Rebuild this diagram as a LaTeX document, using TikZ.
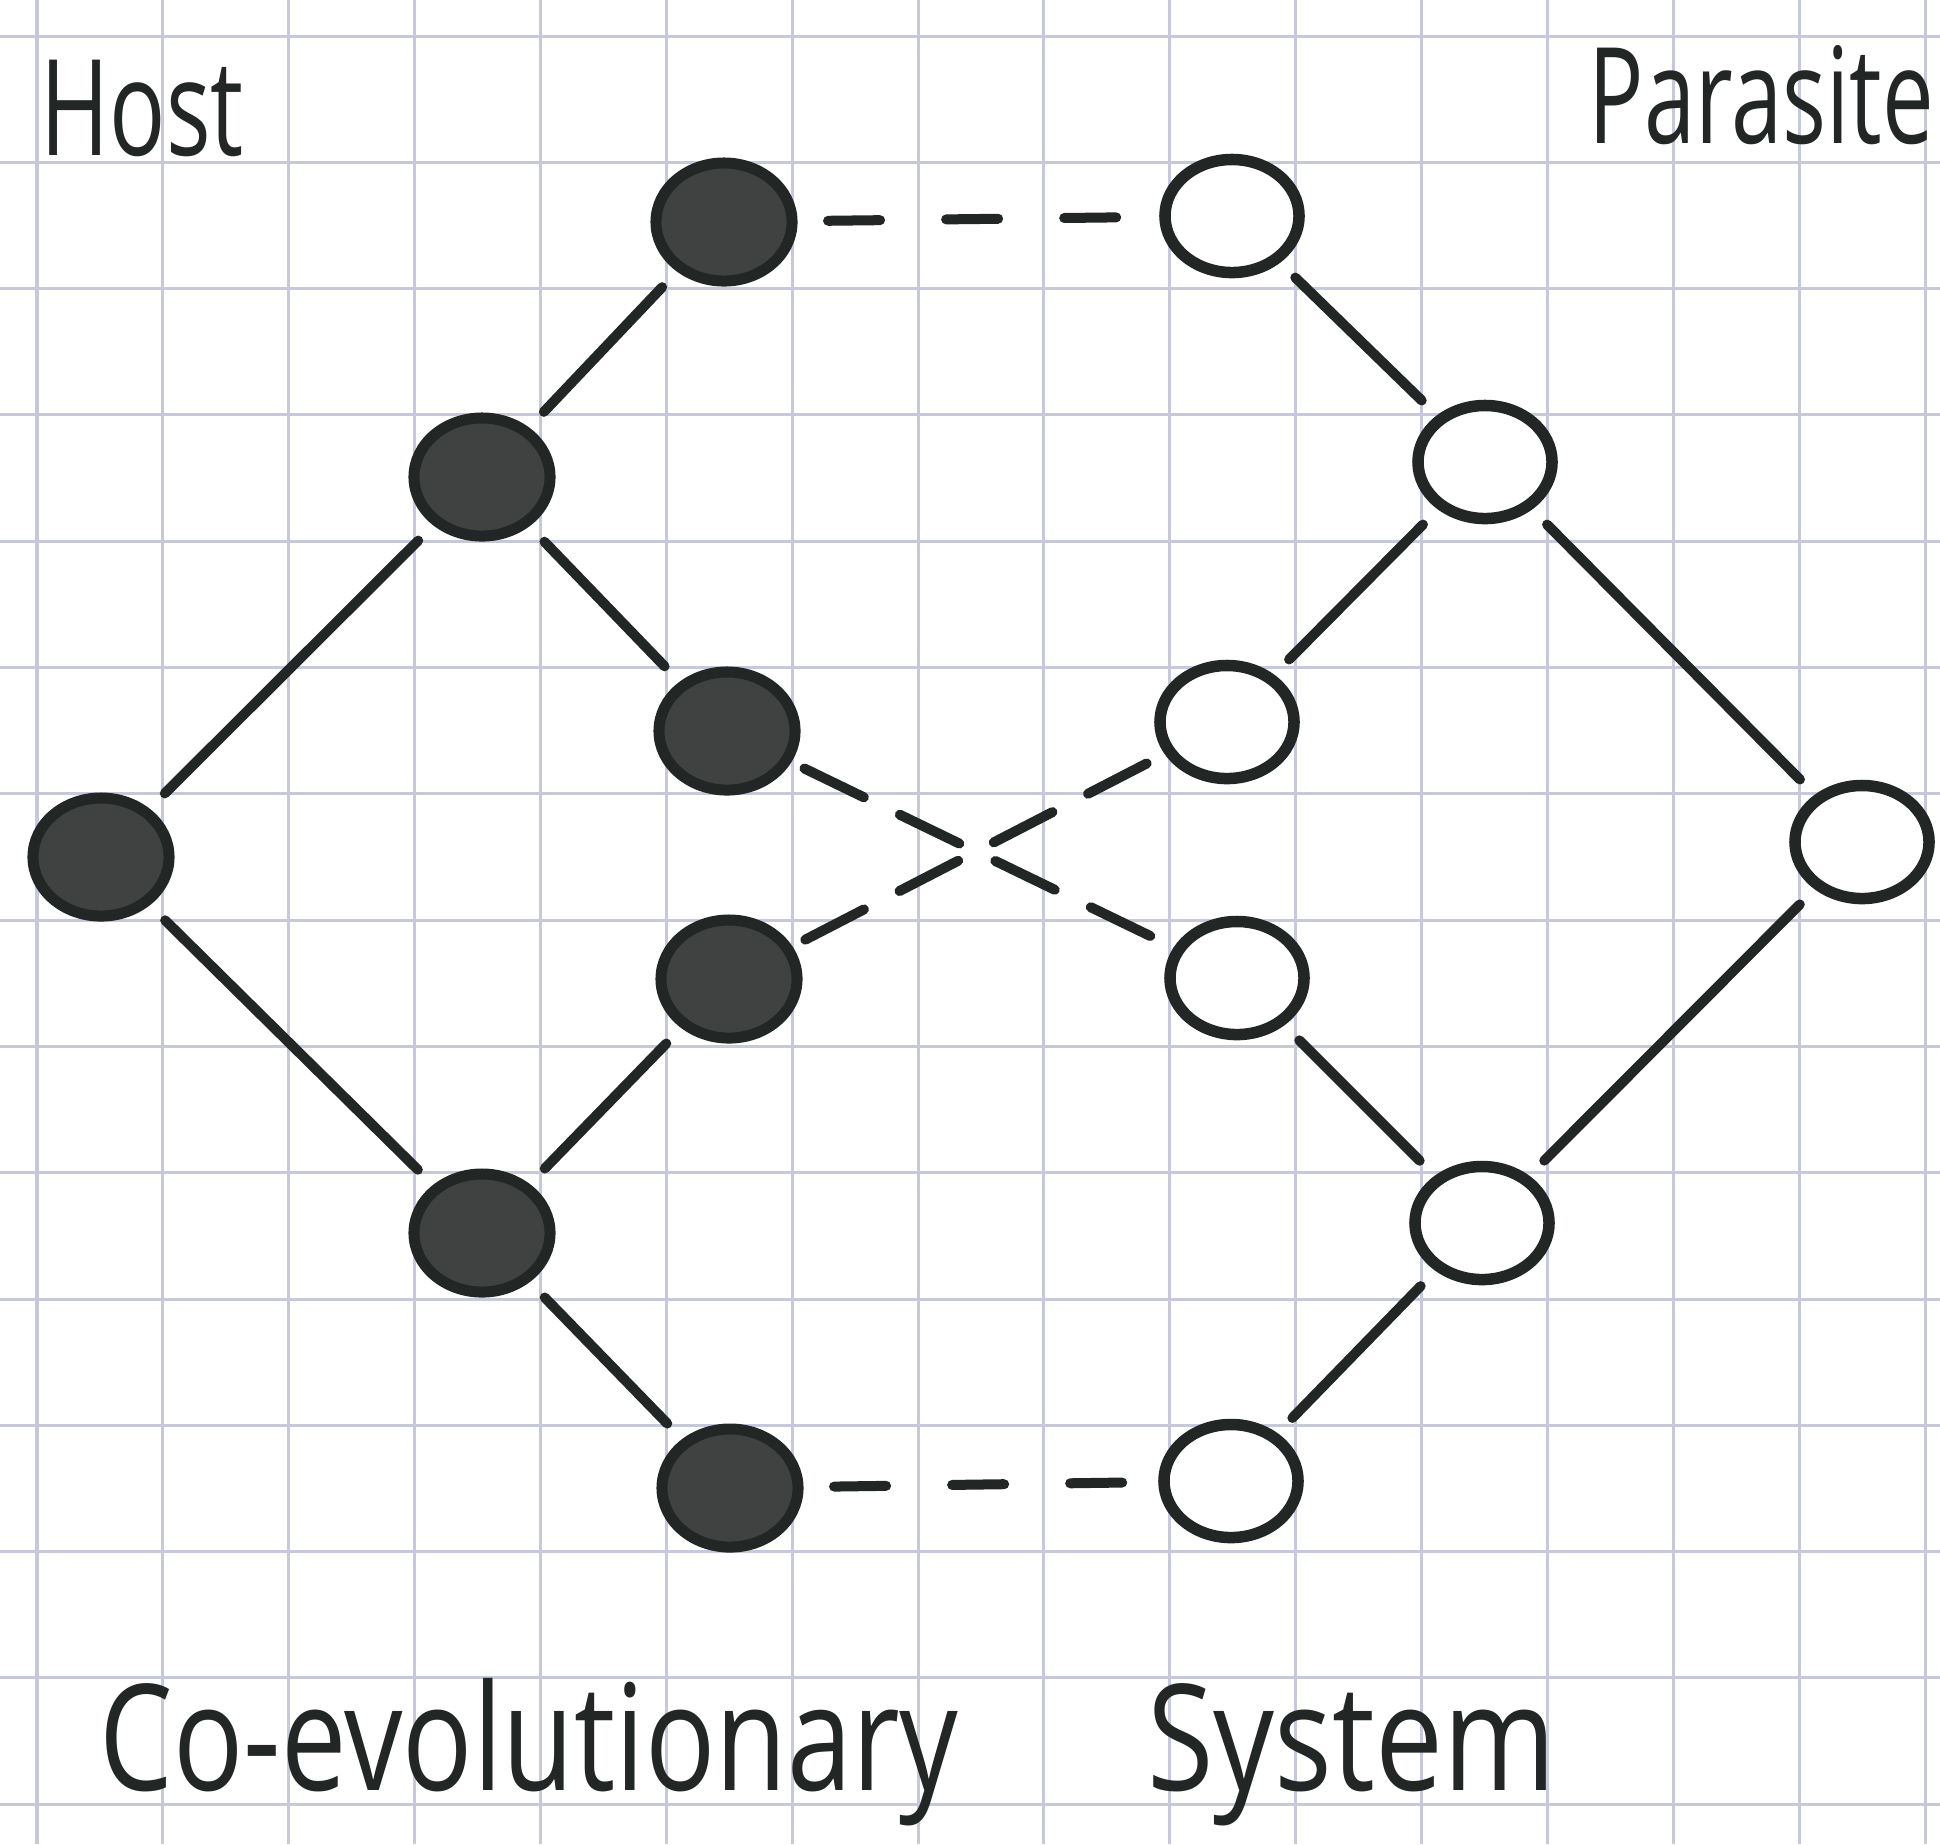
\documentclass[tikz,border=0pt]{standalone}
\usepackage{fontspec}
\setmainfont{Open Sans}
\usetikzlibrary{shapes.geometric}
\definecolor{ink}{RGB}{34,38,36}
\definecolor{hostfill}{RGB}{64,66,65}
\definecolor{gridc}{RGB}{200,200,220}
\begin{document}
\begin{tikzpicture}[x=0.01cm,y=-0.01cm,
  hostnode/.style={ellipse, draw=ink, fill=hostfill, line width=0.11cm,
    minimum width=1.36cm, minimum height=1.18cm, inner sep=0pt, outer sep=0pt},
  paranode/.style={ellipse, draw=ink, fill=white, line width=0.115cm,
    minimum width=1.34cm, minimum height=1.13cm, inner sep=0pt, outer sep=0pt},
  link/.style={draw=ink, line width=0.1cm, line cap=round,
    shorten <=0.27cm, shorten >=0.27cm},
  hdash/.style={draw=ink, line width=0.1cm, line cap=round,
    shorten <=0.36cm, shorten >=0.36cm, dash pattern=on 0.52cm off 0.66cm},
  xdash/.style={draw=ink, line width=0.1cm, line cap=round,
    shorten <=0.2cm, shorten >=0.2cm, dash pattern=on 0.66cm off 0.4cm},
  gridline/.style={draw=gridc, line width=0.03cm},
  handtext/.style={inner sep=0pt, text=ink}
]
\fill[white] (0,0) rectangle (1940,1844);
\useasboundingbox (0,0) rectangle (1940,1844);

% squared paper
\foreach \k in {0,...,15}
  \draw[gridline] ({37+125.87*\k},0) -- ({37+125.87*\k},1844);
\foreach \k in {0,...,14}
  \draw[gridline] (0,{36+126.3*\k}) -- (1940,{36+126.3*\k});

% host nodes
\node[hostnode] (H1) at (101,857) {};
\node[hostnode] (H2) at (482,477) {};
\node[hostnode] (H3) at (482,1233) {};
\node[hostnode] (H4) at (724,222) {};
\node[hostnode] (H5) at (727,731) {};
\node[hostnode] (H6) at (729,979) {};
\node[hostnode] (H7) at (730,1488) {};

% parasite nodes
\node[paranode] (P1) at (1232,216) {};
\node[paranode] (P2) at (1485,462) {};
\node[paranode] (P3) at (1227,722) {};
\node[paranode] (P4) at (1237,978) {};
\node[paranode] (P5) at (1482,1223) {};
\node[paranode] (P6) at (1231,1481) {};
\node[paranode] (P7) at (1862,842) {};

% host tree
\draw[link] (H1) -- (H2);
\draw[link] (H1) -- (H3);
\draw[link] (H2) -- (H4);
\draw[link] (H2) -- (H5);
\draw[link] (H3) -- (H6);
\draw[link] (H3) -- (H7);

% parasite tree
\draw[link] (P1) -- (P2);
\draw[link] (P3) -- (P2);
\draw[link] (P2) -- (P7);
\draw[link] (P4) -- (P5);
\draw[link] (P6) -- (P5);
\draw[link] (P5) -- (P7);

% associations
\draw[hdash] (H4) -- (P1);
\draw[hdash] (H7) -- (P6);
\draw[xdash] (H5) -- (P4);
\draw[xdash] (H6) -- (P3);

% labels
\node[handtext, anchor=base west] (thost) at (40,155)
  {\fontsize{38}{40}\selectfont\scalebox{0.7}[1]{Host}};
\node[handtext, anchor=base east] (tpara) at (1935,143)
  {\fontsize{38}{40}\selectfont\scalebox{0.69}[1]{Parasite}};
\node[handtext, anchor=base west] (tsys) at (99,1790)
  {\fontsize{42}{44}\selectfont\scalebox{0.79}[1]{Co-evolutionary} \hspace{1.5cm}\scalebox{0.82}[1]{System}};
\end{tikzpicture}
\end{document}
